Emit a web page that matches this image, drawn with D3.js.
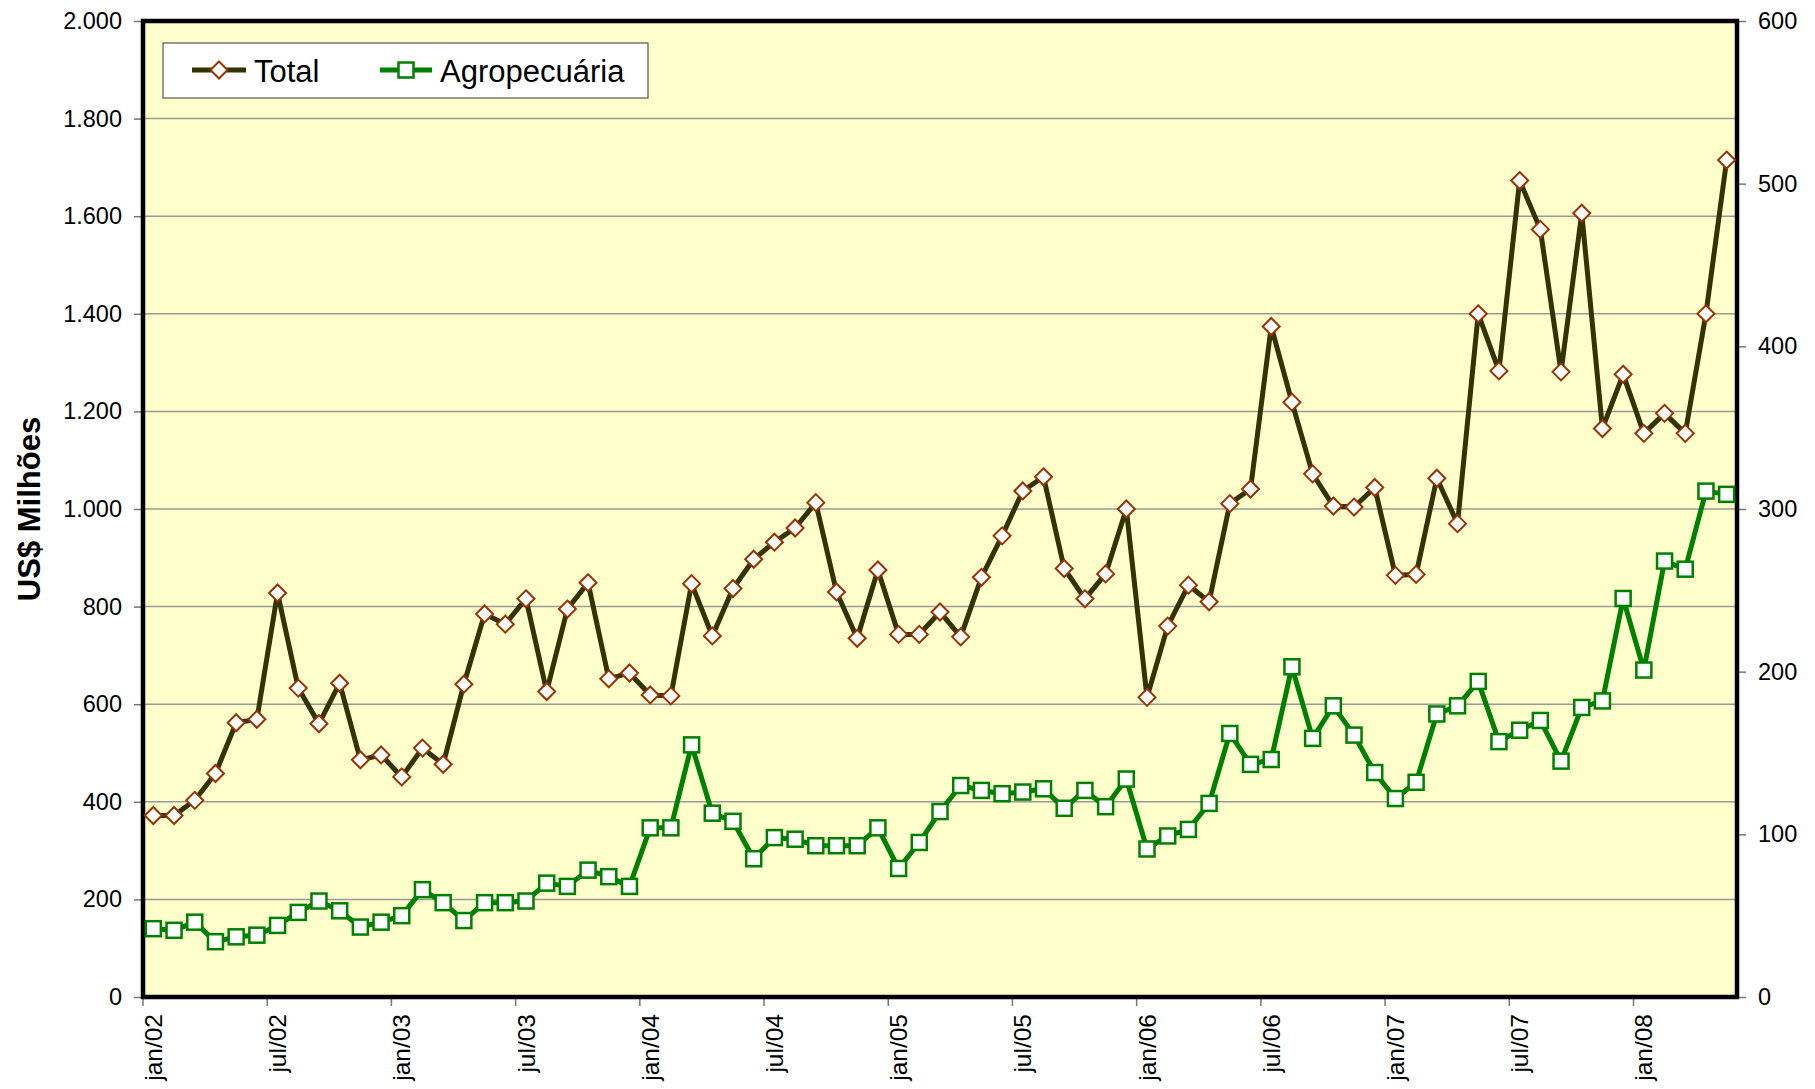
<!DOCTYPE html>
<html>
<head>
<meta charset="utf-8">
<script src="https://cdn.jsdelivr.net/npm/d3@7"></script>
<style>
  body { margin: 0; background: #fff; }
  text { font-family: "Liberation Sans", Arial, sans-serif; fill: #000; }
</style>
</head>
<body>
<div id="chart"></div>
<script>
// months (categories)
var months = [
  "jan/02", "fev/02", "mar/02", "abr/02", "mai/02", "jun/02", "jul/02", "ago/02", "set/02", "out/02", "nov/02", "dez/02",
  "jan/03", "fev/03", "mar/03", "abr/03", "mai/03", "jun/03", "jul/03", "ago/03", "set/03", "out/03", "nov/03", "dez/03",
  "jan/04", "fev/04", "mar/04", "abr/04", "mai/04", "jun/04", "jul/04", "ago/04", "set/04", "out/04", "nov/04", "dez/04",
  "jan/05", "fev/05", "mar/05", "abr/05", "mai/05", "jun/05", "jul/05", "ago/05", "set/05", "out/05", "nov/05", "dez/05",
  "jan/06", "fev/06", "mar/06", "abr/06", "mai/06", "jun/06", "jul/06", "ago/06", "set/06", "out/06", "nov/06", "dez/06",
  "jan/07", "fev/07", "mar/07", "abr/07", "mai/07", "jun/07", "jul/07", "ago/07", "set/07", "out/07", "nov/07", "dez/07",
  "jan/08", "fev/08", "mar/08", "abr/08", "mai/08"
];

// Total (left axis, US$ milhões)
var totalValues = [
  372, 372, 403, 458, 562, 569, 828, 633, 560, 643, 486, 496,
  451, 510, 477, 641, 785, 764, 816, 626, 795, 849, 652, 664,
  619, 617, 847, 740, 837, 897, 932, 961, 1013, 830, 735, 875,
  743, 743, 789, 738, 860, 945, 1037, 1066, 878, 816, 867, 1000,
  614, 760, 844, 810, 1011, 1041, 1374, 1219, 1072, 1006, 1004, 1044,
  864, 866, 1063, 970, 1400, 1283, 1673, 1573, 1281, 1606, 1165, 1276,
  1155, 1196, 1155, 1400, 1715
];

// Agropecuaria (right axis)
var agroValues = [
  42, 41, 46, 34, 37, 38, 44, 52, 59, 53, 43, 46,
  50, 66, 58, 47, 58, 58, 59, 70, 68, 78, 74, 68,
  104, 104, 155, 113, 108, 85, 98, 97, 93, 93, 93, 104,
  79, 95, 114, 130, 127, 125, 126, 128, 116, 127, 117, 134,
  91, 99, 103, 119, 162, 143, 146, 203, 159, 179, 161, 138,
  122, 132, 174, 179, 194, 157, 164, 170, 145, 178, 182, 245,
  201, 268, 263, 311, 309
];

// tick labels
var xTickLabels = ["jan/02", "jul/02", "jan/03", "jul/03", "jan/04", "jul/04", "jan/05",
  "jul/05", "jan/06", "jul/06", "jan/07", "jul/07", "jan/08"];
var leftTicks = [0, 200, 400, 600, 800, 1000, 1200, 1400, 1600, 1800, 2000];
var rightTicks = [0, 100, 200, 300, 400, 500, 600];

var seriesNames = ["Total", "Agropecuária"];

// set the dimensions of the graph
var width = 1815,
  height = 1089,
  plotLeft = 143,
  plotRight = 1737,
  plotTop = 21,
  plotBottom = 997;

var ptBR = d3.formatLocale({ decimal: ",", thousands: ".", grouping: [3], currency: ["R$", ""] });
var fmt = ptBR.format(",d");

var svg = d3
  .select("#chart")
  .append("svg")
  .attr("width", width)
  .attr("height", height);

// scales
var x = d3.scaleBand().domain(months).range([plotLeft, plotRight]);
var yLeft = d3.scaleLinear().domain([0, 2000]).range([plotBottom, plotTop]);
var yRight = d3.scaleLinear().domain([0, 600]).range([plotBottom, plotTop]);

// plot background
svg
  .append("rect")
  .attr("x", plotLeft)
  .attr("y", plotTop)
  .attr("width", plotRight - plotLeft)
  .attr("height", plotBottom - plotTop)
  .attr("fill", "#FFFFCC");

// grid lines
svg
  .append("g")
  .selectAll("line")
  .data(leftTicks.slice(1))
  .enter()
  .append("line")
  .attr("x1", plotLeft)
  .attr("x2", plotRight)
  .attr("y1", (d) => yLeft(d))
  .attr("y2", (d) => yLeft(d))
  .attr("stroke", "#9a9a9a")
  .attr("stroke-width", 1.5);

// left axis
var leftAxis = svg
  .append("g")
  .attr("transform", `translate(${plotLeft},0)`)
  .call(d3.axisLeft(yLeft).tickValues(leftTicks).tickFormat(fmt).tickSize(9).tickPadding(12));
leftAxis.select(".domain").remove();
leftAxis.selectAll(".tick line").attr("stroke", "#777").attr("stroke-width", 1.5);
leftAxis.selectAll("text").style("font-size", "23.5px").attr("fill", "#000");

// right axis
var rightAxis = svg
  .append("g")
  .attr("transform", `translate(${plotRight},0)`)
  .call(d3.axisRight(yRight).tickValues(rightTicks).tickSize(9).tickPadding(12));
rightAxis.select(".domain").remove();
rightAxis.selectAll(".tick line").attr("stroke", "#777").attr("stroke-width", 1.5);
rightAxis.selectAll("text").style("font-size", "23.5px").attr("fill", "#000");

// x axis ticks at the category boundary, labels centred on the month
var xAxis = svg.append("g");
xAxis
  .selectAll("line")
  .data(xTickLabels)
  .enter()
  .append("line")
  .attr("x1", (d) => x(d))
  .attr("x2", (d) => x(d))
  .attr("y1", plotBottom)
  .attr("y2", plotBottom + 9)
  .attr("stroke", "#777")
  .attr("stroke-width", 1.5);
xAxis
  .selectAll("text")
  .data(xTickLabels)
  .enter()
  .append("text")
  .attr("transform", (d) => `translate(${x(d) + x.bandwidth() / 2},${plotBottom + 17}) rotate(-90)`)
  .attr("dy", "0.35em")
  .style("text-anchor", "end")
  .style("font-size", "24.5px")
  .text((d) => d);

// y axis title
svg
  .append("text")
  .attr("transform", `translate(29,509) rotate(-90)`)
  .attr("dy", "0.35em")
  .style("text-anchor", "middle")
  .style("font-size", "31px")
  .style("font-weight", "bold")
  .text("US$ Milhões");

// plot border
svg
  .append("rect")
  .attr("x", plotLeft)
  .attr("y", plotTop)
  .attr("width", plotRight - plotLeft)
  .attr("height", plotBottom - plotTop)
  .attr("fill", "none")
  .attr("stroke", "#000")
  .attr("stroke-width", 4.5);

var cx = (i) => x(months[i]) + x.bandwidth() / 2;

// Total line
var totalLine = d3
  .line()
  .x((d, i) => cx(i))
  .y((d) => yLeft(d));
svg
  .append("path")
  .datum(totalValues)
  .attr("d", totalLine)
  .attr("fill", "none")
  .attr("stroke", "#333300")
  .attr("stroke-width", 5)
  .attr("stroke-linejoin", "round");

// Agropecuaria line
var agroLine = d3
  .line()
  .x((d, i) => cx(i))
  .y((d) => yRight(d));
svg
  .append("path")
  .datum(agroValues)
  .attr("d", agroLine)
  .attr("fill", "none")
  .attr("stroke", "#008000")
  .attr("stroke-width", 5)
  .attr("stroke-linejoin", "round");

// diamond markers
var diamond = "M0,-8.5 L8.5,0 L0,8.5 L-8.5,0 Z";
svg
  .append("g")
  .selectAll("path")
  .data(totalValues)
  .enter()
  .append("path")
  .attr("d", diamond)
  .attr("transform", (d, i) => `translate(${cx(i)},${yLeft(d)})`)
  .attr("fill", "#fff")
  .attr("stroke", "#993300")
  .attr("stroke-width", 2);

// square markers
svg
  .append("g")
  .selectAll("rect")
  .data(agroValues)
  .enter()
  .append("rect")
  .attr("x", (d, i) => cx(i) - 7.5)
  .attr("y", (d) => yRight(d) - 7.5)
  .attr("width", 15)
  .attr("height", 15)
  .attr("fill", "#fff")
  .attr("stroke", "#008000")
  .attr("stroke-width", 2.5);

// legend
var legend = svg.append("g");
legend
  .append("rect")
  .attr("x", 163)
  .attr("y", 43)
  .attr("width", 485)
  .attr("height", 55)
  .attr("fill", "#fff")
  .attr("stroke", "#555")
  .attr("stroke-width", 1.2);

// Total entry
legend.append("line").attr("x1", 192).attr("x2", 246).attr("y1", 70).attr("y2", 70)
  .attr("stroke", "#333300").attr("stroke-width", 5);
legend.append("path").attr("d", diamond).attr("transform", "translate(219,70)")
  .attr("fill", "#fff").attr("stroke", "#993300").attr("stroke-width", 2);
legend.append("text").attr("x", 254).attr("y", 71).attr("dy", "0.35em")
  .style("font-size", "31px").text(seriesNames[0]);

// Agropecuaria entry
legend.append("line").attr("x1", 380).attr("x2", 432).attr("y1", 70).attr("y2", 70)
  .attr("stroke", "#008000").attr("stroke-width", 5);
legend.append("rect").attr("x", 398.5).attr("y", 62.5).attr("width", 15).attr("height", 15)
  .attr("fill", "#fff").attr("stroke", "#008000").attr("stroke-width", 2.5);
legend.append("text").attr("x", 440).attr("y", 71).attr("dy", "0.35em")
  .style("font-size", "31px").text(seriesNames[1]);
</script>
</body>
</html>
